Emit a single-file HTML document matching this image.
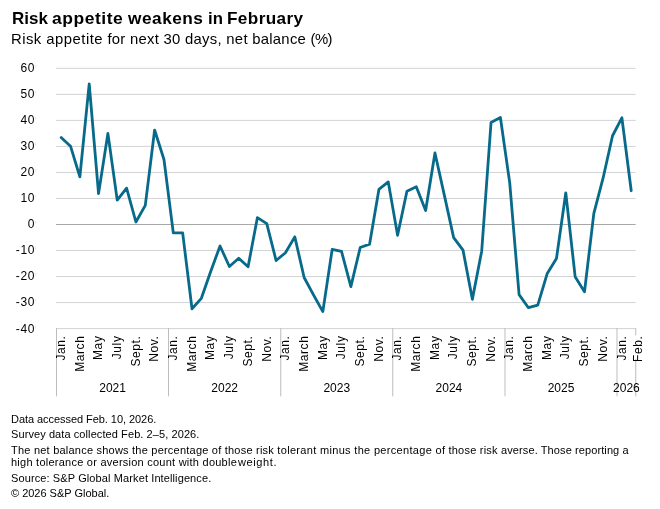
<!DOCTYPE html>
<html lang="en"><head><meta charset="utf-8"><title>Risk appetite weakens in February</title>
<style>
html,body{margin:0;padding:0;background:#fff;}
body{width:660px;height:509px;position:relative;overflow:hidden;font-family:"Liberation Sans",Arial,sans-serif;color:#000;}
.t{will-change:transform;position:absolute;left:12px;white-space:nowrap;line-height:1;}
#title{top:10px;font-size:16.5px;font-weight:bold;letter-spacing:0.63px}
#sub{top:32.3px;font-size:14.3px;left:10.8px;letter-spacing:0.258px}
.f{font-size:11px;left:10.7px}
svg text.ax{font-family:"Liberation Sans",Arial,sans-serif;font-size:12px;fill:#000;}
svg text.m{letter-spacing:0.6px}
svg text.yl{letter-spacing:0.6px}
</style></head><body>
<svg width="660" height="509" viewBox="0 0 660 509" style="position:absolute;left:0;top:0;will-change:transform">
<line x1="56.0" x2="635.7" y1="68.32" y2="68.32" stroke="#d2d3d5" stroke-width="1"/>
<text x="35.0" y="72" text-anchor="end" class="ax yl">60</text>
<rect x="35.2" y="64.8" width="0.9" height="2.7" fill="#e4e4e4"/>
<line x1="56.0" x2="635.7" y1="94.35" y2="94.35" stroke="#d2d3d5" stroke-width="1"/>
<text x="35.0" y="98" text-anchor="end" class="ax yl">50</text>
<rect x="35.2" y="90.8" width="0.9" height="2.7" fill="#e4e4e4"/>
<line x1="56.0" x2="635.7" y1="120.38" y2="120.38" stroke="#d2d3d5" stroke-width="1"/>
<text x="35.0" y="124" text-anchor="end" class="ax yl">40</text>
<rect x="35.2" y="116.8" width="0.9" height="2.7" fill="#e4e4e4"/>
<line x1="56.0" x2="635.7" y1="146.41" y2="146.41" stroke="#d2d3d5" stroke-width="1"/>
<text x="35.0" y="150" text-anchor="end" class="ax yl">30</text>
<rect x="35.2" y="142.8" width="0.9" height="2.7" fill="#e4e4e4"/>
<line x1="56.0" x2="635.7" y1="172.44" y2="172.44" stroke="#d2d3d5" stroke-width="1"/>
<text x="35.0" y="176" text-anchor="end" class="ax yl">20</text>
<rect x="35.2" y="168.8" width="0.9" height="2.7" fill="#e4e4e4"/>
<line x1="56.0" x2="635.7" y1="198.47" y2="198.47" stroke="#d2d3d5" stroke-width="1"/>
<text x="35.0" y="202" text-anchor="end" class="ax yl">10</text>
<rect x="35.2" y="194.8" width="0.9" height="2.7" fill="#e4e4e4"/>
<line x1="56.0" x2="635.7" y1="224.5" y2="224.5" stroke="#a8a8a8" stroke-width="1"/>
<text x="35.0" y="228" text-anchor="end" class="ax yl">0</text>
<rect x="35.2" y="220.8" width="0.9" height="2.7" fill="#e4e4e4"/>
<line x1="56.0" x2="635.7" y1="250.53" y2="250.53" stroke="#d2d3d5" stroke-width="1"/>
<text x="35.0" y="254" text-anchor="end" class="ax yl">-10</text>
<rect x="35.2" y="246.8" width="0.9" height="2.7" fill="#e4e4e4"/>
<line x1="56.0" x2="635.7" y1="276.56" y2="276.56" stroke="#d2d3d5" stroke-width="1"/>
<text x="35.0" y="280" text-anchor="end" class="ax yl">-20</text>
<rect x="35.2" y="272.8" width="0.9" height="2.7" fill="#e4e4e4"/>
<line x1="56.0" x2="635.7" y1="302.59" y2="302.59" stroke="#d2d3d5" stroke-width="1"/>
<text x="35.0" y="306" text-anchor="end" class="ax yl">-30</text>
<rect x="35.2" y="298.8" width="0.9" height="2.7" fill="#e4e4e4"/>
<line x1="56.0" x2="635.7" y1="328.62" y2="328.62" stroke="#d2d3d5" stroke-width="1"/>
<text x="35.0" y="333" text-anchor="end" class="ax yl">-40</text>
<rect x="35.2" y="325.8" width="0.9" height="2.7" fill="#e4e4e4"/>
<line x1="56.5" x2="56.5" y1="328.1" y2="396.3" stroke="#bdbdbd" stroke-width="1"/>
<line x1="168.5" x2="168.5" y1="328.1" y2="396.3" stroke="#bdbdbd" stroke-width="1"/>
<line x1="280.75" x2="280.75" y1="328.1" y2="396.3" stroke="#bdbdbd" stroke-width="1"/>
<line x1="392.75" x2="392.75" y1="328.1" y2="396.3" stroke="#bdbdbd" stroke-width="1"/>
<line x1="505.0" x2="505.0" y1="328.1" y2="396.3" stroke="#bdbdbd" stroke-width="1"/>
<line x1="617.0" x2="617.0" y1="328.1" y2="396.3" stroke="#bdbdbd" stroke-width="1"/>
<line x1="635.75" x2="635.75" y1="328.1" y2="396.3" stroke="#bdbdbd" stroke-width="1"/>
<text x="112.6" y="392.2" text-anchor="middle" class="ax">2021</text>
<text x="224.7" y="392.2" text-anchor="middle" class="ax">2022</text>
<text x="336.8" y="392.2" text-anchor="middle" class="ax">2023</text>
<text x="448.9" y="392.2" text-anchor="middle" class="ax">2024</text>
<text x="561.0" y="392.2" text-anchor="middle" class="ax">2025</text>
<text x="626.4" y="392.2" text-anchor="middle" class="ax">2026</text>
<text transform="translate(65.0,335.5) rotate(-90)" text-anchor="end" class="ax m">Jan.</text>
<text transform="translate(83.7,335.5) rotate(-90)" text-anchor="end" class="ax m">March</text>
<text transform="translate(102.3,335.5) rotate(-90)" text-anchor="end" class="ax m">May</text>
<text transform="translate(121.0,335.5) rotate(-90)" text-anchor="end" class="ax m">July</text>
<text transform="translate(139.7,335.5) rotate(-90)" text-anchor="end" class="ax m">Sept.</text>
<text transform="translate(158.4,335.5) rotate(-90)" text-anchor="end" class="ax m">Nov.</text>
<text transform="translate(177.1,335.5) rotate(-90)" text-anchor="end" class="ax m">Jan.</text>
<text transform="translate(195.8,335.5) rotate(-90)" text-anchor="end" class="ax m">March</text>
<text transform="translate(214.4,335.5) rotate(-90)" text-anchor="end" class="ax m">May</text>
<text transform="translate(233.1,335.5) rotate(-90)" text-anchor="end" class="ax m">July</text>
<text transform="translate(251.8,335.5) rotate(-90)" text-anchor="end" class="ax m">Sept.</text>
<text transform="translate(270.5,335.5) rotate(-90)" text-anchor="end" class="ax m">Nov.</text>
<text transform="translate(289.2,335.5) rotate(-90)" text-anchor="end" class="ax m">Jan.</text>
<text transform="translate(307.9,335.5) rotate(-90)" text-anchor="end" class="ax m">March</text>
<text transform="translate(326.5,335.5) rotate(-90)" text-anchor="end" class="ax m">May</text>
<text transform="translate(345.2,335.5) rotate(-90)" text-anchor="end" class="ax m">July</text>
<text transform="translate(363.9,335.5) rotate(-90)" text-anchor="end" class="ax m">Sept.</text>
<text transform="translate(382.6,335.5) rotate(-90)" text-anchor="end" class="ax m">Nov.</text>
<text transform="translate(401.3,335.5) rotate(-90)" text-anchor="end" class="ax m">Jan.</text>
<text transform="translate(420.0,335.5) rotate(-90)" text-anchor="end" class="ax m">March</text>
<text transform="translate(438.6,335.5) rotate(-90)" text-anchor="end" class="ax m">May</text>
<text transform="translate(457.3,335.5) rotate(-90)" text-anchor="end" class="ax m">July</text>
<text transform="translate(476.0,335.5) rotate(-90)" text-anchor="end" class="ax m">Sept.</text>
<text transform="translate(494.7,335.5) rotate(-90)" text-anchor="end" class="ax m">Nov.</text>
<text transform="translate(513.4,335.5) rotate(-90)" text-anchor="end" class="ax m">Jan.</text>
<text transform="translate(532.1,335.5) rotate(-90)" text-anchor="end" class="ax m">March</text>
<text transform="translate(550.8,335.5) rotate(-90)" text-anchor="end" class="ax m">May</text>
<text transform="translate(569.4,335.5) rotate(-90)" text-anchor="end" class="ax m">July</text>
<text transform="translate(588.1,335.5) rotate(-90)" text-anchor="end" class="ax m">Sept.</text>
<text transform="translate(606.8,335.5) rotate(-90)" text-anchor="end" class="ax m">Nov.</text>
<text transform="translate(625.5,335.5) rotate(-90)" text-anchor="end" class="ax m">Jan.</text>
<rect x="632.5" y="335.3" width="11" height="23.7" fill="#fff"/>
<text transform="translate(641.5,335.5) rotate(-90)" text-anchor="end" class="ax m">Feb.</text>
<polyline points="61.17,137.59 70.52,146.19 79.86,176.93 89.21,83.93 98.55,193.60 107.90,133.43 117.24,200.11 126.59,188.13 135.93,222.00 145.28,205.32 154.62,130.04 163.97,159.47 173.31,232.94 182.66,232.94 192.00,308.74 201.35,298.32 210.69,271.49 220.04,245.96 229.38,266.54 238.73,258.20 248.07,266.80 257.42,217.57 266.76,223.56 276.11,260.55 285.45,252.73 294.80,236.84 304.14,277.48 313.49,294.94 322.83,311.61 332.18,249.35 341.52,251.43 350.87,286.60 360.21,247.52 369.56,244.14 378.90,189.43 388.25,181.88 397.59,235.28 406.94,191.26 416.28,186.83 425.63,210.53 434.97,152.96 444.32,195.16 453.66,237.62 463.01,250.13 472.35,299.36 481.70,251.17 491.04,122.48 500.39,117.53 509.73,182.92 519.08,294.67 528.42,307.70 537.77,305.09 547.11,273.83 556.46,258.46 565.80,192.82 575.15,276.70 584.49,291.81 593.84,213.40 603.18,177.71 612.53,135.77 621.87,117.80 631.22,190.73" fill="none" stroke="#076a8a" stroke-width="2.8" stroke-linejoin="round" stroke-linecap="round"/>
</svg>
<div class="t" id="title" style="width:300px;height:17px"><span style="position:absolute;left:0.0px;top:0;letter-spacing:0.0px;transform:scaleX(1.028);transform-origin:0 0">Risk</span> <span style="position:absolute;left:39.6px;top:0;letter-spacing:0.5px;transform:scaleX(1.06);transform-origin:0 0">appetite</span> <span style="position:absolute;left:115.7px;top:0;letter-spacing:0.49px;transform:scaleX(1.045);transform-origin:0 0">weakens</span> <span style="position:absolute;left:195.9px;top:0;letter-spacing:0.0px;transform:scaleX(1.014);transform-origin:0 0">in</span> <span style="position:absolute;left:215.1px;top:0;letter-spacing:0.37px;transform:scaleX(1.04);transform-origin:0 0">February</span></div>
<div class="t" id="sub" style="transform:scaleX(1.04);transform-origin:0 0"><span style="letter-spacing:0.448px">Risk appetite</span> for next 30 days, net balance <span style="letter-spacing:-0.57px">(%)</span></div>
<div class="t f" style="top:414px;letter-spacing:-0.056px">Data accessed Feb. 10, 2026.</div>
<div class="t f" style="top:429.2px;letter-spacing:0.086px">Survey data collected Feb. 2–5, 2026.</div>
<div class="t f" style="top:445.2px;letter-spacing:0.222px">The net balance shows the percentage of those risk <span style="letter-spacing:0.322px">tolerant minus the percentage </span>of those risk <span style="letter-spacing:0.10px">averse. Those reporting a</span></div>
<div class="t f" style="top:456.7px;letter-spacing:0.245px">high tolerance or aversion count with double<span style="letter-spacing:0.6px;margin-left:-2.7px"> weight.</span></div>
<div class="t f" style="top:473px;letter-spacing:0.11px">Source: S&amp;P Global Market Intelligence.</div>
<div class="t f" style="top:487.7px;letter-spacing:-0.01px">© 2026 S&amp;P Global.</div>
</body></html>
